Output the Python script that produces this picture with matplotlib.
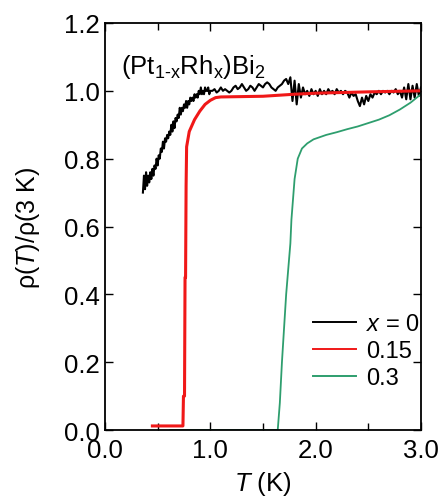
import matplotlib
matplotlib.use("Agg")
import matplotlib.pyplot as plt
from matplotlib.ticker import MultipleLocator, FormatStrFormatter

plt.rcParams['font.family'] = ['Liberation Sans', 'DejaVu Sans']
plt.rcParams['mathtext.fontset'] = 'custom'
plt.rcParams['mathtext.rm'] = 'Liberation Sans'
plt.rcParams['mathtext.it'] = 'Liberation Sans:italic'

# ---- data ----
x0_T = [0.36, 0.37, 0.38, 0.39, 0.40, 0.41, 0.42, 0.43, 0.44, 0.45,
        0.46, 0.47, 0.48, 0.49, 0.50, 0.51, 0.52, 0.53, 0.54, 0.55,
        0.56, 0.57, 0.58, 0.59, 0.60, 0.61, 0.62, 0.63, 0.64, 0.65,
        0.66, 0.67, 0.68, 0.69, 0.70, 0.71, 0.72, 0.73, 0.74, 0.75,
        0.76, 0.77, 0.78, 0.79, 0.80, 0.81, 0.82, 0.83, 0.84, 0.85,
        0.86, 0.87, 0.88, 0.89, 0.90, 0.91, 0.92, 0.93, 0.94, 0.95,
        0.96, 0.97, 0.98, 0.99, 1.00,
        1.02, 1.04, 1.06, 1.08, 1.10, 1.12, 1.14, 1.16, 1.18, 1.20,
        1.22, 1.24, 1.26, 1.28, 1.30, 1.32, 1.34, 1.36, 1.38, 1.40,
        1.42, 1.44, 1.46, 1.48, 1.50, 1.52, 1.54, 1.56, 1.58, 1.60,
        1.62, 1.64, 1.66, 1.68, 1.70, 1.72, 1.74, 1.76, 1.78, 1.80,
        1.82, 1.84, 1.86, 1.88, 1.90, 1.92, 1.94, 1.96, 1.98, 2.00,
        2.02, 2.04, 2.06, 2.08, 2.10, 2.12, 2.14, 2.16, 2.18, 2.20,
        2.22, 2.24, 2.26, 2.28, 2.30, 2.32, 2.34, 2.36, 2.38, 2.40,
        2.42, 2.44, 2.46, 2.48, 2.50, 2.52, 2.54, 2.56, 2.58, 2.60,
        2.62, 2.64, 2.66, 2.68, 2.70, 2.72, 2.74, 2.76, 2.78, 2.80,
        2.82, 2.84, 2.86, 2.88, 2.90, 2.92, 2.94, 2.96, 2.98, 3.00]
x0_R = [0.70, 0.75, 0.71, 0.76, 0.72, 0.75, 0.73, 0.76, 0.74, 0.77,
        0.75, 0.78, 0.77, 0.80, 0.78, 0.81, 0.80, 0.83, 0.82, 0.85,
        0.83, 0.86, 0.85, 0.87, 0.86, 0.88, 0.87, 0.90, 0.88, 0.91,
        0.89, 0.92, 0.91, 0.93, 0.92, 0.95, 0.93, 0.95, 0.94, 0.96,
        0.95, 0.97, 0.95, 0.97, 0.96, 0.98, 0.97, 0.98, 0.97, 0.99,
        0.98, 0.99, 0.98, 1.00, 0.99, 1.01, 0.99, 1.00, 0.99, 1.01,
        1.00, 1.00, 1.01, 0.99, 1.00,
        1.000, 1.005, 0.995, 1.000, 1.010, 1.000, 1.005, 1.000, 0.995, 1.000,
        1.010, 1.015, 1.005, 1.010, 1.020, 1.010, 1.000, 1.005, 1.015, 1.010,
        1.000, 1.010, 1.020, 1.015, 1.010, 1.020, 1.025, 1.020, 1.010, 1.005,
        1.000, 1.010, 1.015, 1.020, 1.030, 1.035, 1.020, 1.040, 0.970, 1.030,
        0.960, 1.020, 0.980, 1.010, 0.990, 1.000, 0.985, 1.005, 0.990, 1.000,
        0.985, 1.005, 0.990, 1.000, 0.990, 1.005, 0.995, 1.000, 0.990, 1.005,
        0.995, 1.000, 0.990, 1.000, 0.995, 0.980, 0.995, 0.985, 0.990, 0.970,
        0.955, 0.980, 0.960, 0.985, 0.970, 0.990, 0.980, 0.995, 0.990, 1.000,
        0.990, 1.000, 0.995, 1.000, 0.990, 1.000, 0.995, 1.005, 0.990, 1.000,
        0.980, 1.010, 0.975, 1.020, 0.975, 1.015, 0.980, 1.020, 0.985, 1.010]

x15_T = [0.45, 0.74, 0.745, 0.755, 0.76, 0.765, 0.77, 0.775, 0.80, 0.85,
         0.90, 0.95, 1.00, 1.05, 1.10, 1.50, 1.80, 2.00, 2.50, 3.00]
x15_R = [0.012, 0.012, 0.10, 0.10, 0.45, 0.45, 0.72, 0.835, 0.88, 0.915,
         0.94, 0.96, 0.972, 0.98, 0.982, 0.984, 0.99, 0.993, 0.997, 1.00]

x30_T = [0.62, 1.64, 1.66, 1.68, 1.72, 1.76, 1.77, 1.80, 1.83, 1.87,
         1.92, 1.98, 2.10, 2.20, 2.30, 2.40, 2.50, 2.60, 2.70, 2.80,
         2.90, 3.00]
x30_R = [0.0, 0.0, 0.08, 0.20, 0.40, 0.55, 0.62, 0.74, 0.80, 0.83,
         0.845, 0.857, 0.87, 0.878, 0.887, 0.895, 0.905, 0.915, 0.928, 0.945,
         0.965, 0.99]

labels = [r'$x$ = 0', '0.15', '0.3']

# ---- figure ----
fig = plt.figure(figsize=(4.46, 5.02), dpi=100)
ax = fig.add_axes([0.2354, 0.1414, 0.7085, 0.8108])

ax.plot(x0_T, x0_R, color='black', lw=1.5, label=labels[0])
ax.plot(x15_T, x15_R, color='#f01818', lw=2.2, label=labels[1])
ax.plot(x30_T, x30_R, color='#2e9e6e', lw=1.3, label=labels[2])

ax.set_xlim(0, 3.0)
ax.set_ylim(0, 1.2)
ax.xaxis.set_major_locator(MultipleLocator(1.0))
ax.xaxis.set_minor_locator(MultipleLocator(0.5))
ax.yaxis.set_major_locator(MultipleLocator(0.2))
ax.xaxis.set_major_formatter(FormatStrFormatter('%.1f'))
ax.yaxis.set_major_formatter(FormatStrFormatter('%.1f'))
ax.tick_params(which='both', direction='in', top=True, right=True,
               labelsize=18.5, width=1.0, colors='black')
ax.tick_params(which='major', length=6)
ax.tick_params(which='minor', length=5)
ax.tick_params(axis='y', pad=4)
ax.tick_params(axis='x', pad=6)
for s in ax.spines.values():
    s.set_linewidth(1.3)

ax.set_xlabel(r'$T$ (K)', fontsize=18.5)
ax.xaxis.set_label_coords(0.5, -0.095)
ax.set_ylabel(r'ρ($T$)/ρ(3 K)', fontsize=18)
ax.yaxis.set_label_coords(-0.2, 0.5)

ax.text(0.05, 0.895, r'(Pt$_{\mathrm{1\text{-}x}}$Rh$_{\mathrm{x}}$)Bi$_{\mathrm{2}}$',
        transform=ax.transAxes, fontsize=18.5, ha='left', va='center')

leg = ax.legend(loc='center left', bbox_to_anchor=(0.658, 0.194), frameon=False,
                fontsize=17, handlelength=1.82, handletextpad=0.42,
                labelspacing=0.2, borderpad=0, borderaxespad=0)
for h in leg.get_lines():
    h.set_linewidth(1.4)

fig.savefig('out.png', dpi=100)
